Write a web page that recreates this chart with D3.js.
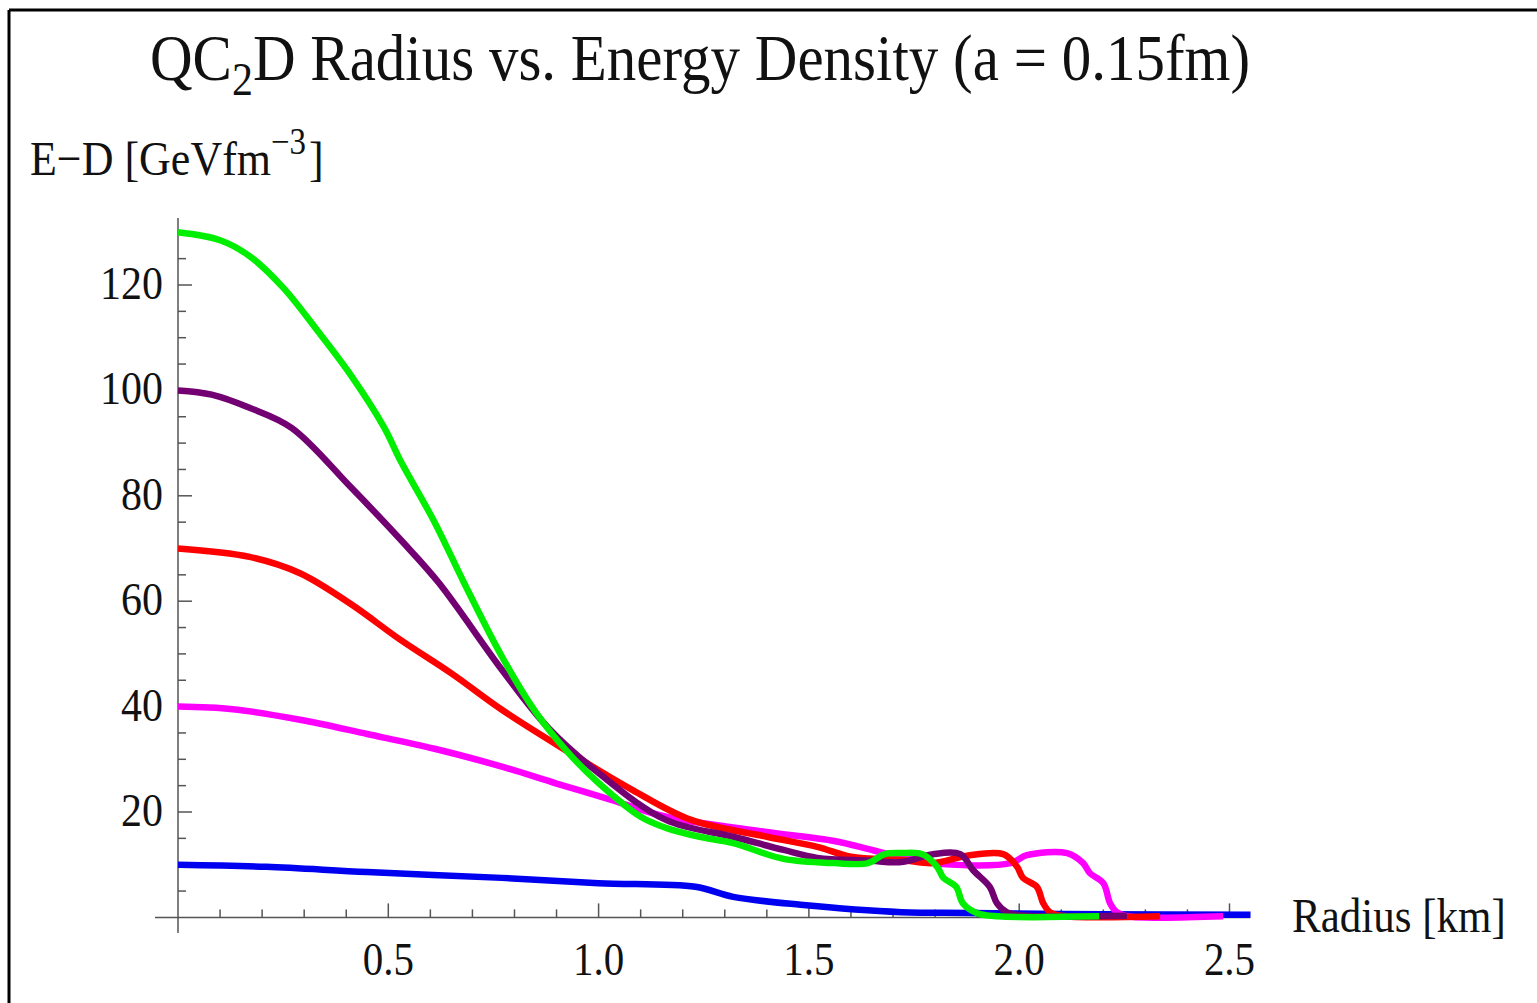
<!DOCTYPE html>
<html>
<head>
<meta charset="utf-8">
<script src="https://cdn.jsdelivr.net/npm/d3@7"></script>
<style>
  body { margin: 0; background: #fff; }
  text { font-family: "Liberation Serif", "DejaVu Serif", serif; fill: #111; }
</style>
</head>
<body>
<div id="chart"></div>
<script>
// values: radius [km] and energy density [GeV fm^-3]
var greenR   = [0, 0.1, 0.17, 0.25, 0.33, 0.41, 0.49, 0.53, 0.61, 0.68, 0.77, 0.85, 0.925, 1.0, 1.1, 1.16, 1.24, 1.32, 1.44, 1.56, 1.64, 1.68, 1.72, 1.77, 1.805, 1.82, 1.85, 1.866, 1.9, 1.95, 2.19];
var greenV   = [130, 128.5, 125.5, 119.5, 111.5, 103, 93, 86.5, 75, 63.5, 49.5, 39, 31.5, 25.5, 19.1, 17.0, 15.3, 14.1, 11.1, 10.3, 10.3, 12.0, 12.2, 12.0, 9.6, 7.5, 5.8, 2.7, 0.8, 0.2, 0.2];
var purpleR  = [0, 0.08, 0.17, 0.27, 0.41, 0.53, 0.62, 0.77, 0.88, 1.0, 1.16, 1.32, 1.44, 1.52, 1.64, 1.72, 1.795, 1.86, 1.89, 1.93, 1.947, 1.97, 2.0, 2.256];
var purpleV  = [100, 99.2, 96.7, 92.9, 81.7, 71.6, 63.5, 47, 36, 27.4, 18.5, 15.3, 12.8, 11.3, 10.8, 10.5, 12.0, 12.0, 9.0, 5.8, 2.7, 1.0, 0.4, 0.3];
var redR     = [0, 0.17, 0.29, 0.41, 0.53, 0.65, 0.77, 0.91, 1.08, 1.22, 1.4, 1.52, 1.6, 1.72, 1.795, 1.876, 1.962, 1.995, 2.009, 2.042, 2.057, 2.073, 2.1, 2.335];
var redV     = [70, 68.4, 65.3, 59.5, 52.6, 46.3, 39.4, 32.3, 24.2, 18.5, 15.3, 13.4, 11.5, 10.9, 10.3, 11.7, 12.0, 9.6, 7.5, 5.8, 2.7, 1.0, 0.3, 0.2];
var magentaR = [0, 0.13, 0.29, 0.45, 0.61, 0.77, 0.9, 1.03, 1.16, 1.4, 1.56, 1.64, 1.68, 1.72, 1.795, 1.98, 2.018, 2.114, 2.152, 2.168, 2.2, 2.216, 2.232, 2.26, 2.485];
var magentaV = [40, 39.5, 37.5, 34.8, 32, 28.6, 25.4, 22.3, 19.1, 16.2, 14.5, 13.0, 12.2, 11.7, 10.3, 10.3, 11.8, 12.2, 10.3, 8.4, 6.5, 2.7, 1.0, 0.2, 0.2];
var blueR    = [0, 0.21, 0.45, 0.77, 1.0, 1.23, 1.32, 1.48, 1.72, 1.88, 2.2, 2.55];
var blueV    = [10, 9.6, 8.6, 7.5, 6.5, 5.8, 3.9, 2.4, 1.0, 0.85, 0.6, 0.5];

var xMajor = [0.5, 1.0, 1.5, 2.0, 2.5];
var yMajor = [20, 40, 60, 80, 100, 120];

// drawing order: last one ends up on top
var series = [
  {r: blueR,    v: blueV,    color: "#0000f0"},
  {r: magentaR, v: magentaV, color: "#ff00ff"},
  {r: redR,     v: redV,     color: "#ff0000"},
  {r: purpleR,  v: purpleV,  color: "#720072"},
  {r: greenR,   v: greenV,   color: "#00ee00"}
];

var W = 1537, H = 1003,
    stretch = 1.12;   // the picture's text is a bit taller than wide

var svg = d3.select("#chart").append("svg")
    .attr("width", W)
    .attr("height", H);

var x = d3.scaleLinear().domain([0, 2.5]).range([178, 1229.5]),
    y = d3.scaleLinear().domain([0, 120]).range([917.4, 285]);

// frame (only top and left edges are visible)
svg.append("line").attr("x1", 9).attr("y1", 10).attr("x2", W).attr("y2", 10)
    .attr("stroke", "#000").attr("stroke-width", 3);
svg.append("line").attr("x1", 9).attr("y1", 10).attr("x2", 9).attr("y2", H)
    .attr("stroke", "#000").attr("stroke-width", 3);

function stretchedText(px, py, size, anchor) {
  return svg.append("text")
      .attr("transform", "translate(" + px + "," + py + ") scale(1," + stretch + ")")
      .attr("text-anchor", anchor || "start")
      .style("font-size", size + "px");
}

// title
var title = stretchedText(150, 80, 59);
title.append("tspan").text("QC");
title.append("tspan").attr("dy", 13).style("font-size", "42px").text("2");
title.append("tspan").attr("dy", -13).text("D Radius vs. Energy Density (a = 0.15fm)");

// y axis label
var ylab = stretchedText(30, 175, 44);
ylab.append("tspan").text("E\u2212D [GeVfm");
ylab.append("tspan").attr("dy", -19).style("font-size", "33px").text("\u22123");
ylab.append("tspan").attr("dy", 19).attr("dx", 3).text("]");

// x axis label
stretchedText(1292, 932, 43).text("Radius [km]");

// axes
var axisG = svg.append("g").attr("stroke", "#555").attr("stroke-width", 1.5);
axisG.append("line").attr("x1", x(0)).attr("x2", x(0)).attr("y1", 218).attr("y2", 933);
axisG.append("line").attr("x1", 155).attr("x2", 1250).attr("y1", y(0)).attr("y2", y(0));

var xMinor = d3.range(1, 26).map(function(i) { return i / 10; });
axisG.selectAll(".xt").data(xMinor).enter().append("line")
    .attr("x1", function(d) { return x(d); })
    .attr("x2", function(d) { return x(d); })
    .attr("y1", y(0))
    .attr("y2", function(d, i) { return (i + 1) % 5 === 0 ? y(0) - 14 : y(0) - 8; });

var yMinor = d3.range(1, 27).map(function(i) { return i * 5; });
axisG.selectAll(".yt").data(yMinor).enter().append("line")
    .attr("y1", function(d) { return y(d); })
    .attr("y2", function(d) { return y(d); })
    .attr("x1", x(0))
    .attr("x2", function(d) { return d % 20 === 0 ? x(0) + 14 : x(0) + 8; });

xMajor.forEach(function(d) {
  stretchedText(x(d), 975, 41, "middle").text(d3.format(".1f")(d));
});
yMajor.forEach(function(d) {
  stretchedText(163, y(d) + 14, 42, "end").text(d);
});

// curves
var line = d3.line()
    .x(function(d) { return x(d[0]); })
    .y(function(d) { return y(d[1]); })
    .curve(d3.curveCatmullRom.alpha(0.5));

series.forEach(function(s) {
  var pts = s.r.map(function(r, i) { return [r, s.v[i]]; });
  svg.append("path")
      .attr("d", line(pts))
      .attr("fill", "none")
      .attr("stroke", s.color)
      .attr("stroke-width", 6.5)
      .attr("stroke-linejoin", "round");
});
</script>
</body>
</html>
